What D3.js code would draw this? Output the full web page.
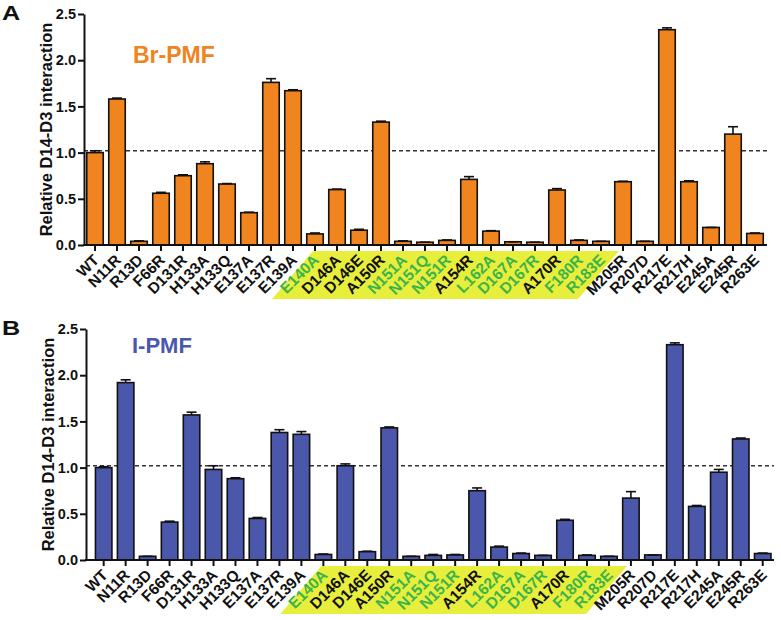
<!DOCTYPE html>
<html><head><meta charset="utf-8">
<script src="https://cdn.jsdelivr.net/npm/d3@7"></script>
<style>body{margin:0;background:#fff}svg{display:block;font-family:"Liberation Sans",Arial,sans-serif}</style>
</head><body><svg id="c" width="781" height="620"></svg>
<script>
const categories = ["WT","N11R","R13D","F66R","D131R","H133A","H133Q","E137A","E137R","E139A","E140A","D146A","D146E","A150R","N151A","N151Q","N151R","A154R","L162A","D167A","D167R","A170R","F180R","R183E","M205R","R207D","R217E","R217H","E245A","E245R","R263E"];
const greenLabels = ["E140A","N151A","N151Q","N151R","L162A","D167A","D167R","F180R","R183E"];
const highlightStart = "E140A", highlightEnd = "R183E";
const brValues = [1.00,1.58,0.04,0.56,0.75,0.88,0.66,0.35,1.76,1.67,0.12,0.60,0.16,1.33,0.04,0.03,0.05,0.71,0.15,0.035,0.03,0.595,0.05,0.04,0.685,0.04,2.33,0.685,0.19,1.20,0.125];
const brErrors = [0.02,0.01,0.005,0.01,0.01,0.02,0.005,0.005,0.04,0.01,0.01,0.005,0.01,0.01,0.005,0,0.005,0.03,0.005,0,0,0.015,0.005,0,0.005,0,0.02,0.01,0,0.08,0.005];
const iValues = [1.00,1.92,0.04,0.41,1.57,0.98,0.88,0.45,1.38,1.36,0.06,1.02,0.09,1.43,0.04,0.05,0.055,0.75,0.14,0.07,0.05,0.43,0.05,0.04,0.67,0.055,2.33,0.58,0.95,1.31,0.07];
const iErrors = [0.01,0.03,0,0.01,0.03,0.04,0.01,0.01,0.03,0.03,0.005,0.02,0.005,0.01,0,0.01,0.005,0.03,0.01,0.005,0,0.01,0.005,0,0.07,0,0.02,0.01,0.03,0.01,0.005];
const yTicks = [0,0.5,1.0,1.5,2.0,2.5];
const refLine = 1.02;

const svg = d3.select("#c");

function panel(o){
  const g = svg.append("g");
  const x = d3.scaleBand().domain(categories).range([o.bandL,o.bandR]).paddingInner(0.25).paddingOuter(0.125);
  const y = d3.scaleLinear().domain([0,2.5]).range([o.y0,o.y1]);
  const xs = x(highlightStart)+x.bandwidth()/2 - 2, xe = x(highlightEnd)+x.bandwidth()/2 + 18;
  const t = o.y0+6, b = o.y0+54, sh = 41;
  g.append("polygon").attr("points",[[xs,t],[xe,t],[xe-sh,b],[xs-sh,b]].map(p=>p.join(",")).join(" ")).attr("fill","#e8ee3c");
  g.append("line").attr("x1",o.axisX).attr("x2",o.axisEnd).attr("y1",y(refLine)).attr("y2",y(refLine))
    .attr("stroke","#333").attr("stroke-width",1.3).attr("stroke-dasharray","4,3");
  g.selectAll("rect.bar").data(categories).join("rect").attr("class","bar")
    .attr("x",d=>x(d)).attr("width",x.bandwidth())
    .attr("y",(d,i)=>y(o.values[i])).attr("height",(d,i)=>y(0)-y(o.values[i]))
    .attr("fill",o.color).attr("stroke","#111").attr("stroke-width",1.6);
  const eb = g.selectAll("g.eb").data(categories).join("g").attr("class","eb");
  eb.append("line").attr("x1",d=>x(d)+x.bandwidth()/2).attr("x2",d=>x(d)+x.bandwidth()/2)
    .attr("y1",(d,i)=>y(o.values[i])).attr("y2",(d,i)=>y(o.values[i]+o.errors[i])).attr("stroke","#111").attr("stroke-width",1.6);
  eb.append("line").attr("x1",d=>x(d)+x.bandwidth()/2-5).attr("x2",d=>x(d)+x.bandwidth()/2+5)
    .attr("y1",(d,i)=>y(o.values[i]+o.errors[i])).attr("y2",(d,i)=>y(o.values[i]+o.errors[i])).attr("stroke","#111").attr("stroke-width",1.6);
  const ya = g.append("g").attr("transform",`translate(${o.axisX},0)`)
    .call(d3.axisLeft(y).tickValues(yTicks).tickFormat(d3.format(".1f")).tickSize(6).tickSizeOuter(0));
  ya.select(".domain").attr("stroke","#111").attr("stroke-width",2);
  ya.selectAll(".tick line").attr("stroke","#111").attr("stroke-width",2);
  ya.selectAll(".tick text").attr("font-size",14.5).attr("font-weight","bold").attr("fill","#111").attr("x",-8).attr("font-family",'"Liberation Sans",Arial,sans-serif');
  const xa = g.append("g").attr("transform",`translate(0,${o.y0})`)
    .call(d3.axisBottom(x).tickSize(6).tickSizeOuter(0));
  xa.select(".domain").remove();
  xa.selectAll(".tick line").attr("stroke","#111").attr("stroke-width",2);
  xa.selectAll(".tick text").attr("font-size",15.5).attr("font-weight","bold")
    .attr("font-family",'"Liberation Sans",Arial,sans-serif')
    .attr("fill",d=>greenLabels.includes(d)?"#3cb44a":"#111")
    .attr("text-anchor","end").attr("dy",0).attr("y",0)
    .attr("transform","translate(5,16) rotate(-45)");
  g.append("line").attr("x1",o.axisX-1).attr("x2",o.axisEnd).attr("y1",o.y0).attr("y2",o.y0).attr("stroke","#111").attr("stroke-width",2);
  g.append("text").attr("transform",`translate(${o.axisX-32},${(o.y0+o.y1)/2}) rotate(-90)`)
    .attr("text-anchor","middle").attr("font-size",16.5).attr("font-weight","bold").attr("fill","#111")
    .text("Relative D14-D3 interaction");
  g.append("text").attr("x",o.lblX).attr("y",o.lblY).attr("font-size",o.lblSize).attr("font-weight","bold").attr("fill",o.color).text(o.label);
  g.append("text").attr("transform",`translate(2,${o.letterY}) scale(1.2,1)`).attr("font-size",21).attr("font-weight","bold").attr("fill","#111").text(o.letter);
}

panel({values:brValues,errors:brErrors,color:"#f0841f",label:"Br-PMF",letter:"A",
  bandL:84,bandR:766,y0:245,y1:14,axisX:84,axisEnd:767,lblX:133,lblY:63,lblSize:23,letterY:20});
panel({values:iValues,errors:iErrors,color:"#4a57ab",label:"I-PMF",letter:"B",
  bandL:92.7,bandR:773.7,y0:560,y1:329,axisX:86,axisEnd:774,lblX:132,lblY:353,lblSize:22,letterY:335});
</script></body></html>
